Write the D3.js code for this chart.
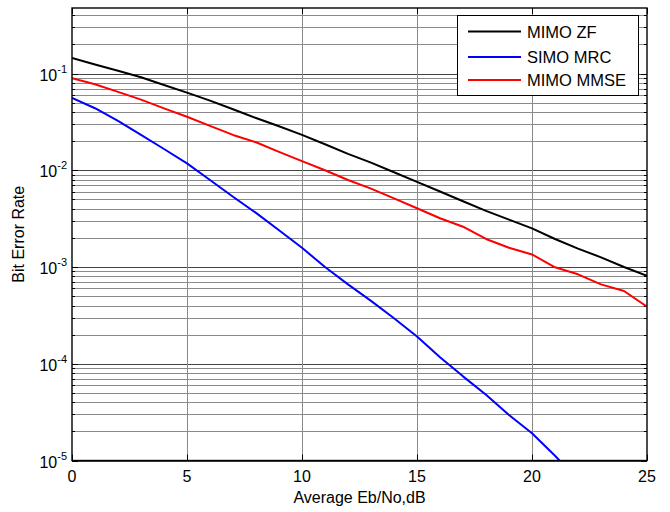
<!DOCTYPE html>
<html>
<head>
<meta charset="utf-8">
<script src="https://cdn.jsdelivr.net/npm/d3@7"></script>
<style>
  html, body { margin: 0; padding: 0; background: #fff; }
  svg { display: block; font-family: Arial, "Liberation Sans", sans-serif; }
</style>
</head>
<body>
<svg id="chart" width="670" height="512"></svg>
<script>
// ---- data ----
const snrDb = [0,1,2,3,4,5,6,7,8,9,10,11,12,13,14,15,16,17,18,19,20,21,22,23,24,25];
const berMimoZF = [0.145,0.124,0.107,0.0916,0.0762,0.0635,0.0525,0.0427,0.0347,0.0285,0.0232,0.0186,0.0148,0.0120,0.00955,0.00759,0.00603,0.00479,0.00380,0.00309,0.00251,0.00195,0.00155,0.00126,0.00100,0.000813];
const berSimoMRC = [0.0560,0.0438,0.0324,0.0232,0.0166,0.0118,0.00794,0.00533,0.00363,0.00240,0.00158,0.00100,0.000661,0.000447,0.000295,0.000191,0.000117,0.0000741,0.0000479,0.0000295,0.0000191,0.0000112,0.0000063];
const berMimoMMSE = [0.0893,0.0776,0.0646,0.0537,0.0437,0.0358,0.0288,0.0232,0.0195,0.0155,0.01245,0.0100,0.00794,0.00646,0.00513,0.00405,0.00319,0.00261,0.00195,0.00158,0.00135,0.000993,0.000841,0.000662,0.000565,0.000389];
const seriesNames = ["MIMO ZF", "SIMO MRC", "MIMO MMSE"];
const seriesColors = ["#000000", "#0000ff", "#ff0000"];
const xTicks = [0,5,10,15,20,25];
const yTickExponents = [-5,-4,-3,-2,-1];
const xLabel = "Average Eb/No,dB";
const yLabel = "Bit Error Rate";

// ---- layout ----
const svg = d3.select("#chart");
const L = 72, R = 647, T = 8, B = 460.5;
const x = d3.scaleLinear().domain([0, 25]).range([L, R]);
const y = d3.scaleLog().domain([1e-5, 0.476]).range([B, T]);

// grid
const minorVals = [];
for (let d = -5; d <= -1; d++) for (let k = 1; k <= 9; k++) {
  const v = k * Math.pow(10, d);
  if (v <= 0.476 && v >= 1e-5) minorVals.push({v, major: k === 1});
}
const grid = svg.append("g");
grid.selectAll("line.h").data(minorVals).enter().append("line")
  .attr("x1", L).attr("x2", R)
  .attr("y1", d => Math.round(y(d.v)) + 0.5).attr("y2", d => Math.round(y(d.v)) + 0.5)
  .attr("stroke", d => d.major ? "#444" : "#8a8a8a").attr("stroke-width", 1);
grid.selectAll("line.v").data(xTicks.slice(1, -1)).enter().append("line")
  .attr("x1", d => Math.round(x(d)) + 0.5).attr("x2", d => Math.round(x(d)) + 0.5)
  .attr("y1", T).attr("y2", B)
  .attr("stroke", "#8a8a8a").attr("stroke-width", 1);

// inner ticks
const ticks = svg.append("g").attr("stroke", "#000").attr("stroke-width", 1);
xTicks.forEach(t => {
  const px = Math.round(x(t)) + 0.5;
  ticks.append("line").attr("x1", px).attr("x2", px).attr("y1", B).attr("y2", B - 6);
  ticks.append("line").attr("x1", px).attr("x2", px).attr("y1", T).attr("y2", T + 6);
});
minorVals.forEach(d => {
  const py = Math.round(y(d.v)) + 0.5, len = d.major ? 6 : 3;
  ticks.append("line").attr("x1", L).attr("x2", L + len).attr("y1", py).attr("y2", py);
  ticks.append("line").attr("x1", R).attr("x2", R - len).attr("y1", py).attr("y2", py);
});

// lines
svg.append("defs").append("clipPath").attr("id", "clip")
  .append("rect").attr("x", L).attr("y", T).attr("width", R - L).attr("height", B - T);
const line = d3.line().x(d => x(d[0])).y(d => y(d[1]));
const allSeries = [berMimoZF, berSimoMRC, berMimoMMSE];
const plot = svg.append("g").attr("clip-path", "url(#clip)");
allSeries.forEach((s, i) => {
  plot.append("path")
    .datum(s.map((v, j) => [snrDb[j], v]))
    .attr("d", line).attr("fill", "none")
    .attr("stroke", seriesColors[i]).attr("stroke-width", 2)
    .attr("stroke-linejoin", "round");
});

// frame
svg.append("rect").attr("x", L).attr("y", T).attr("width", R - L).attr("height", B - T)
  .attr("fill", "none").attr("stroke", "#000").attr("stroke-width", 1.4);

// tick labels
svg.append("g").selectAll("text").data(xTicks).enter().append("text")
  .attr("x", d => x(d)).attr("y", 482).attr("text-anchor", "middle")
  .attr("font-size", 16).text(d => d);
const yl = svg.append("g");
yTickExponents.forEach(e => {
  const t = yl.append("text").attr("x", 67).attr("y", y(Math.pow(10, e)) + 7)
    .attr("text-anchor", "end").attr("font-size", 16);
  t.append("tspan").text("10");
  t.append("tspan").attr("dy", -8).attr("font-size", 11).text(String(e));
});

// axis labels
svg.append("text").attr("x", (L + R) / 2).attr("y", 503).attr("text-anchor", "middle")
  .attr("font-size", 16).text(xLabel);
svg.append("text").attr("transform", `translate(24,${(T + B) / 2}) rotate(-90)`)
  .attr("text-anchor", "middle").attr("font-size", 16).text(yLabel);

// legend
const lg = svg.append("g");
lg.append("rect").attr("x", 457.5).attr("y", 15.5).attr("width", 181).attr("height", 80)
  .attr("fill", "#fff").attr("stroke", "#000").attr("stroke-width", 1);
const rowY = [31.5, 57, 80];
seriesNames.forEach((n, i) => {
  lg.append("line").attr("x1", 468).attr("x2", 521).attr("y1", rowY[i]).attr("y2", rowY[i])
    .attr("stroke", seriesColors[i]).attr("stroke-width", 2);
  lg.append("text").attr("x", 527).attr("y", rowY[i] + 6).attr("font-size", 16.5).text(n);
});
</script>
</body>
</html>
